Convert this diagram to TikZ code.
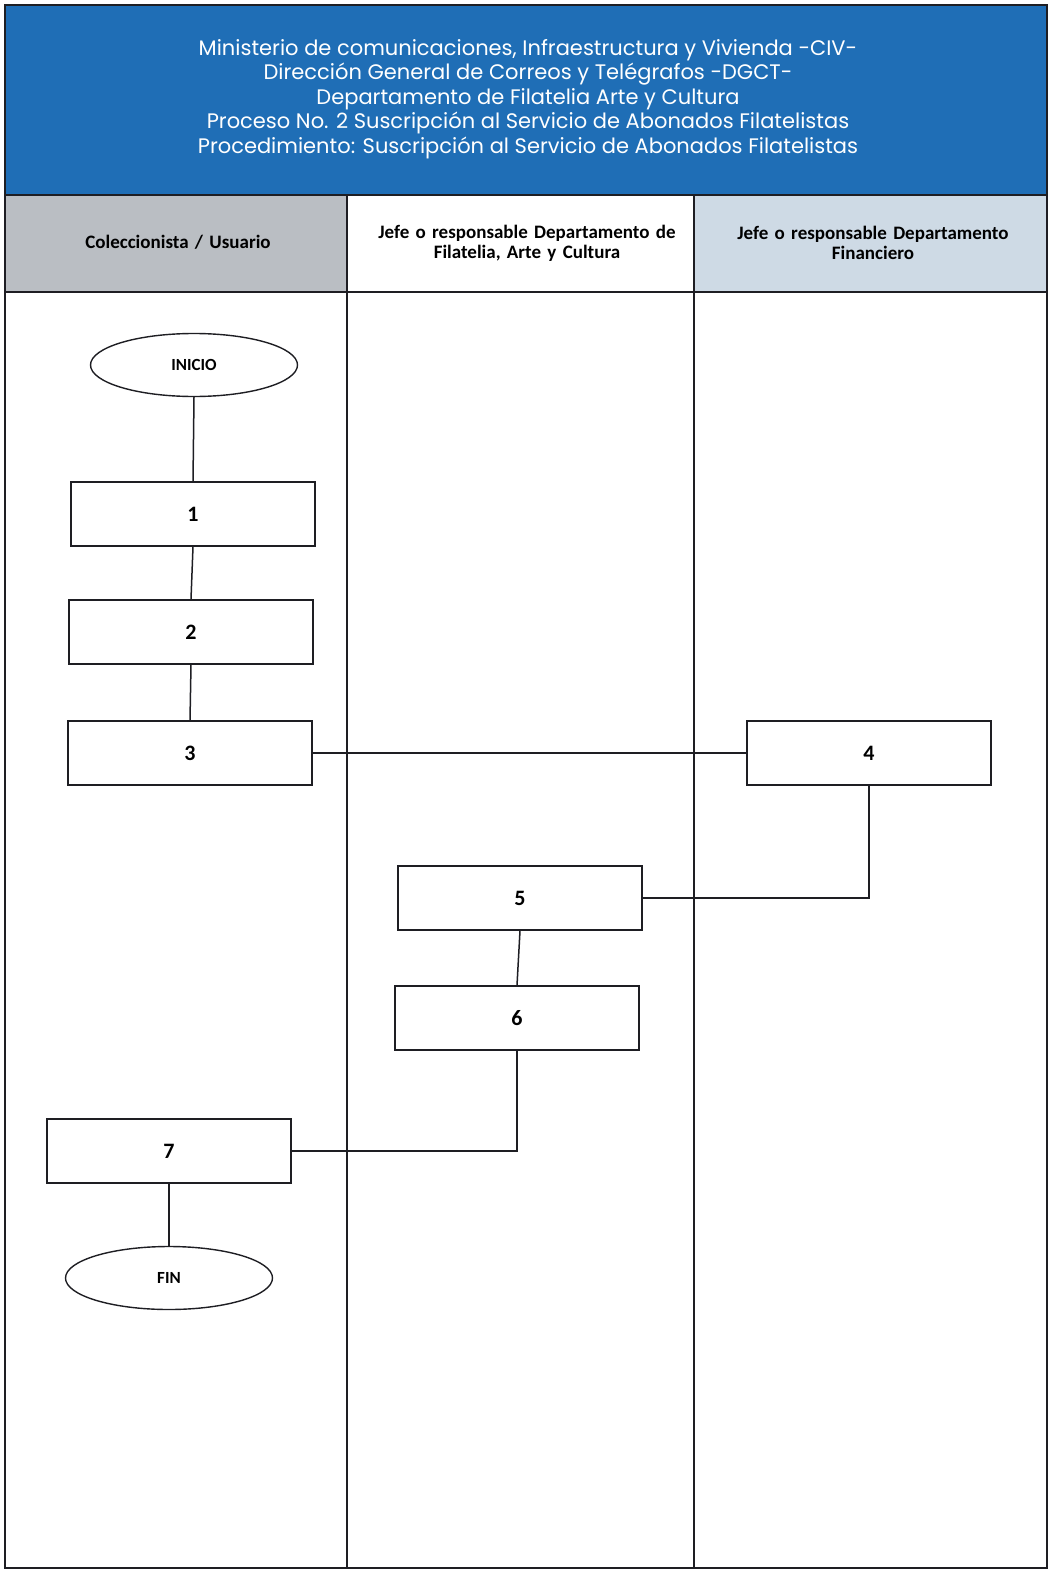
\documentclass[tikz,border=0pt]{standalone}
\usepackage{fontspec}
\setmainfont{Carlito}
\newfontfamily\titlefont{Poppins}
\newfontfamily\hdrfont[WordSpace=0.55]{Carlito}
\usetikzlibrary{shapes.geometric}
\definecolor{hdrblue}{RGB}{31,110,182}
\definecolor{lanegray}{RGB}{186,190,195}
\definecolor{laneblue}{RGB}{206,218,229}
\definecolor{ink}{RGB}{30,30,35}
\tikzset{
  x=1pt,y=-1pt,
  frame/.style={draw=ink,line width=1.8pt},
  stepbox/.style={draw=ink,line width=1.6pt,fill=white,minimum width=244pt,minimum height=64pt,inner sep=0pt,font=\bfseries\fontsize{22}{24}\selectfont},
  term/.style={draw=ink,line width=1.4pt,ellipse,fill=white,minimum width=207pt,minimum height=63pt,inner sep=0pt,font=\bfseries\fontsize{17}{20}\selectfont},
  conn/.style={draw=ink,line width=1.5pt},
  lanehdr/.style={align=center,font=\hdrfont\bfseries\fontsize{19}{20}\selectfont,text width=330pt},
}
\begin{document}
\begin{tikzpicture}
\useasboundingbox (0,0) rectangle (1057,1573);
\fill[white] (0,0) rectangle (1057,1573);
% header
\fill[hdrblue] (5,5) rectangle (1047,195);
\fill[lanegray] (5,195) rectangle (347,292);
\fill[white] (347,195) rectangle (694,292);
\fill[laneblue] (694,195) rectangle (1047,292);
\node[text=white,align=center,font=\titlefont\fontsize{21}{24.5}\selectfont] (title) at (528,99)
 {Ministerio de comunicaciones, Infraestructura y Vivienda -CIV-\\
  Dirección General de Correos y Telégrafos -DGCT-\\
  Departamento de Filatelia Arte y Cultura\\
  Proceso No. 2 Suscripción al Servicio de Abonados Filatelistas\\
  Procedimiento: Suscripción al Servicio de Abonados Filatelistas};
\node[lanehdr] (l1) at (178,242) {Coleccionista / Usuario};
\node[lanehdr] (l2) at (527,243) {Jefe o responsable Departamento de\\Filatelia, Arte y Cultura};
\node[lanehdr] (l3) at (873,243) {Jefe o responsable Departamento\\Financiero};
% frame and lanes
\draw[frame] (5,5) rectangle (1047,1568);
\draw[frame] (5,195) -- (1047,195);
\draw[frame] (5,292) -- (1047,292);
\draw[frame] (347,195) -- (347,1568);
\draw[frame] (694,195) -- (694,1568);
% nodes
\node[term] (inicio) at (194,365) {INICIO};
\node[stepbox] (b1) at (193,514) {1};
\node[stepbox] (b2) at (191,632) {2};
\node[stepbox] (b3) at (190,753) {3};
\node[stepbox] (b4) at (869,753) {4};
\node[stepbox] (b5) at (520,898) {5};
\node[stepbox] (b6) at (517,1018) {6};
\node[stepbox] (b7) at (169,1151) {7};
\node[term] (fin) at (169,1278) {FIN};
% connectors
\draw[conn] (inicio.south) -- (b1.north);
\draw[conn] (b1.south) -- (b2.north);
\draw[conn] (b2.south) -- (b3.north);
\draw[conn] (b3.east) -- (b4.west);
\draw[conn] (b4.south) |- (b5.east);
\draw[conn] (b5.south) -- (b6.north);
\draw[conn] (b6.south) |- (b7.east);
\draw[conn] (b7.south) -- (fin.north);
\end{tikzpicture}
\end{document}
